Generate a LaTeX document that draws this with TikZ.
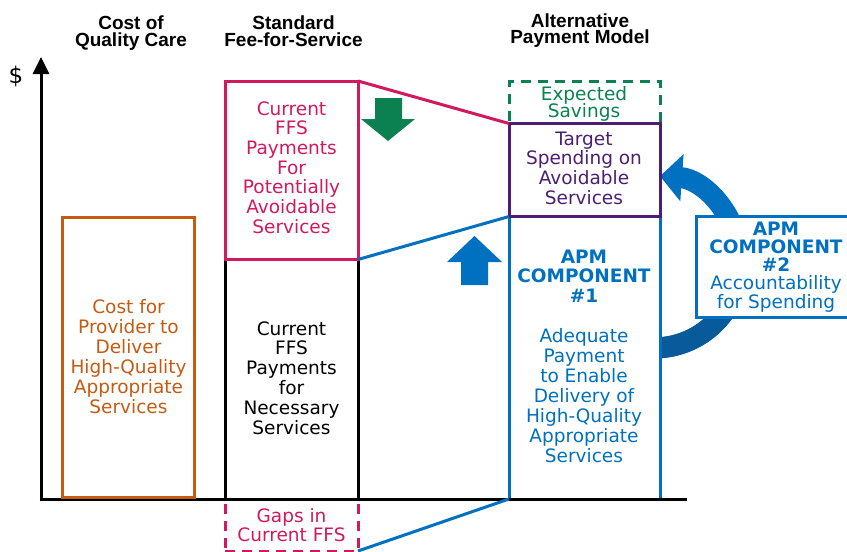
\documentclass[tikz,border=0pt]{standalone}
\usepackage{fontspec}
\setmainfont{DejaVu Sans}
\newfontfamily\headfont{Liberation Sans}
\usetikzlibrary{arrows.meta}

\definecolor{ffspink}{RGB}{210,25,94}
\definecolor{costorange}{RGB}{197,90,17}
\definecolor{savegreen}{RGB}{11,128,80}
\definecolor{targetpurple}{RGB}{75,29,116}
\definecolor{apmblue}{RGB}{0,112,192}
\definecolor{apmdark}{RGB}{8,90,155}

% centred lines with a fixed baseline distance; the box baseline is the first line's
\newcommand{\textlines}[2]{\vtop{\baselineskip=#1pt\lineskiplimit=-100pt\halign{\hfil##\hfil\cr#2\crcr}}}

\begin{document}
\begin{tikzpicture}[x=1pt,y=-1pt,
  box/.style={rectangle, inner sep=0pt, outer sep=0pt, line width=3pt},
  link/.style={line width=3pt},
  gapdash/.style={dash pattern=on 10pt off 7pt},
  bodytext/.style={anchor=base, inner sep=0pt, font=\fontsize{18.5}{20}\selectfont},
  headtext/.style={anchor=base, inner sep=0pt, font=\headfont\bfseries\fontsize{19}{17}\selectfont}]
\useasboundingbox (0,0) rectangle (847,552);

% ---- column boxes ----
\node[box, draw=apmblue, minimum width=151pt, minimum height=282.5pt] (comp1) at (584.5,357.75) {};
\node[box, draw=black, minimum width=133pt, minimum height=239.5pt] (needed) at (291.5,379.25) {};
\node[box, draw=ffspink, gapdash, minimum width=133pt, minimum height=52pt] (gaps) at (291.5,525) {};

% ---- curved arrow from component 2 back to the target spending ----
\draw[line width=21pt, apmblue, -{Triangle[width=46pt,length=22pt]}]
  ([yshift=10pt]comp1.east) arc[start angle=86, end angle=-86, radius=86];
\draw[line width=21pt, apmdark]
  ([yshift=10pt]comp1.east) arc[start angle=86, end angle=-4, radius=86];
\node[box, draw=apmblue, minimum width=151pt, minimum height=282.5pt] at (comp1) {};

% ---- axes ----
\coordinate (origin) at (41,499);
\coordinate (ytip) at (41,57);
\coordinate (xend) at (687,499);
\draw[link, -{Triangle[width=16pt,length=17pt]}] (origin) -- (ytip);
\draw[link] ([xshift=-1.5pt]origin) -- (xend);

\node[box, draw=costorange, minimum width=132pt, minimum height=280pt] (cost) at (128.5,357) {};
\node[box, draw=ffspink, minimum width=133pt, minimum height=178.5pt] (avoid) at (291.5,170.25) {};
\node[box, draw=savegreen, gapdash, minimum width=151pt, minimum height=42.5pt] (savings) at (584.5,102.25) {};
\node[box, draw=targetpurple, minimum width=151pt, minimum height=93pt] (target) at (584.5,170) {};
\node[box, draw=apmblue, fill=white, minimum width=162pt, minimum height=101pt] (comp2) at (777,266.5) {};

% ---- connectors between the columns ----
\draw[link, ffspink] (avoid.north east) -- (target.north west);
\draw[link, apmblue] (avoid.south east) -- (comp1.north west);
\draw[link, apmblue] (gaps.south east) -- (comp1.south west);

% ---- block arrows ----
\fill[savegreen] (375,98) -- (402,98) -- (402,119) -- (415,119) -- (388,141)
  -- (361,119) -- (375,119) -- cycle;
\fill[apmblue] (461,285) -- (488,285) -- (488,262) -- (502,262) -- (474.5,236)
  -- (447,262) -- (461,262) -- cycle;

% ---- headings ----
\node[headtext] (h1) at (131,29.5) {\textlines{17}{Cost of\cr Quality Care}};
\node[headtext] (h2) at (293.5,29.5) {\textlines{17}{Standard\cr Fee-for-Service}};
\node[headtext] (h3) at (580,27) {\textlines{16.5}{Alternative\cr Payment Model}};
\node[anchor=base, inner sep=0pt, font=\fontsize{23}{24}\selectfont] (dollar) at (16,83.5) {\$};

% ---- box texts ----
\node[bodytext, text=costorange] (costtxt) at (128.5,313)
  {\textlines{20}{Cost for\cr Provider to\cr Deliver\cr High-Quality\cr Appropriate\cr Services}};
\node[bodytext, text=ffspink] (avoidtxt) at (291.5,115)
  {\textlines{19.67}{Current\cr FFS\cr Payments\cr For\cr Potentially\cr Avoidable\cr Services}};
\node[bodytext, text=black] (neededtxt) at (291.5,335)
  {\textlines{19.8}{Current\cr FFS\cr Payments\cr for\cr Necessary\cr Services}};
\node[bodytext, text=ffspink] (gapstxt) at (291.5,522)
  {\textlines{19}{Gaps in\cr Current FFS}};
\node[bodytext, text=savegreen] (savingstxt) at (584,100)
  {\textlines{17.3}{Expected\cr Savings}};
\node[bodytext, text=targetpurple] (targettxt) at (584,145)
  {\textlines{19.67}{Target\cr Spending on\cr Avoidable\cr Services}};
\node[bodytext, text=apmblue] (comp1txt) at (584,263)
  {\textlines{19.9}{\bfseries APM\cr \bfseries COMPONENT\cr \bfseries \#1\cr\cr
   Adequate\cr Payment\cr to Enable\cr Delivery of\cr High-Quality\cr Appropriate\cr Services}};
\node[bodytext, text=apmblue] (comp2txt) at (776,235)
  {\textlines{18.25}{\bfseries APM\cr \bfseries COMPONENT\cr \bfseries \#2\cr
   Accountability\cr for Spending}};
\end{tikzpicture}
\end{document}
